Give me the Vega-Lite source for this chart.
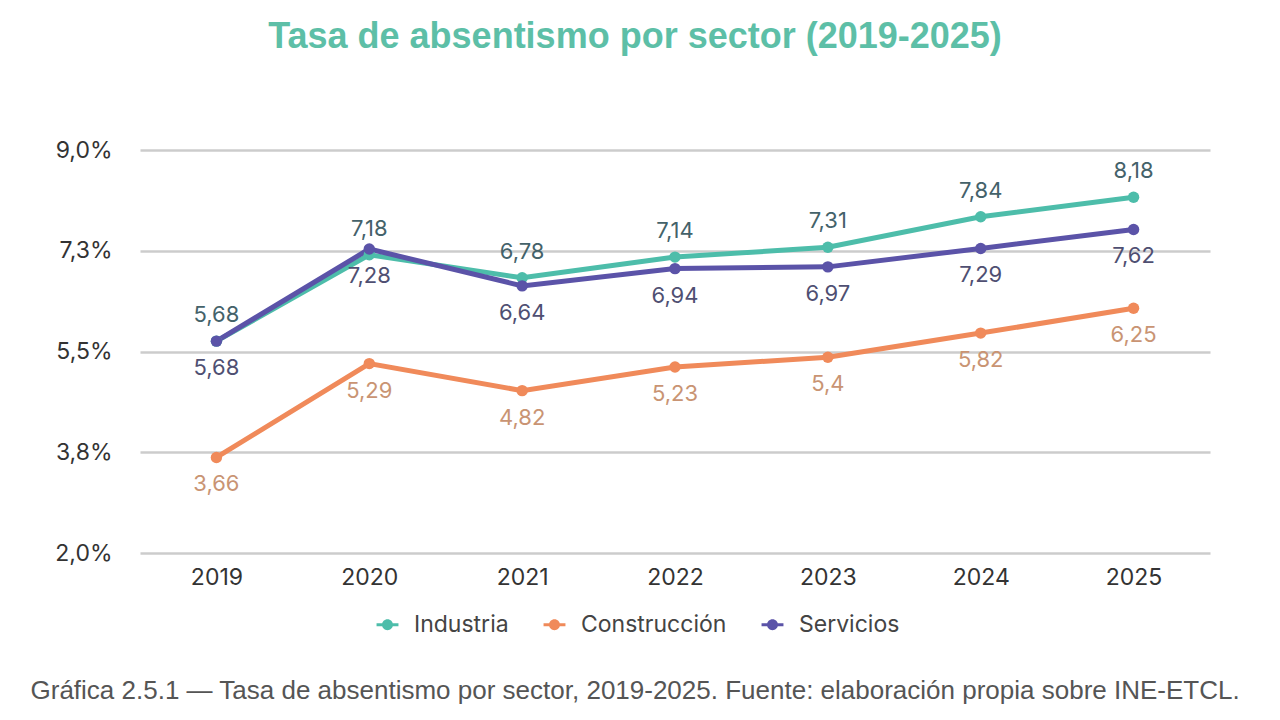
{
  "$schema": "https://vega.github.io/schema/vega-lite/v6.json",
  "width": 1070,
  "height": 403,
  "autosize": {"type": "none"},
  "padding": {"left": 140, "top": 150, "right": 70, "bottom": 167},
  "background": "#ffffff",
  "title": {
    "text": "Tasa de absentismo por sector (2019-2025)",
    "anchor": "middle",
    "dx": -40,
    "offset": 83,
    "font": "Liberation Sans",
    "fontSize": 36,
    "fontWeight": "bold",
    "color": "#5dbfa7"
  },
  "data": {
    "values": [
      {"year": "2019", "sector": "Industria", "value": 5.68},
      {"year": "2020", "sector": "Industria", "value": 7.18},
      {"year": "2021", "sector": "Industria", "value": 6.78},
      {"year": "2022", "sector": "Industria", "value": 7.14},
      {"year": "2023", "sector": "Industria", "value": 7.31},
      {"year": "2024", "sector": "Industria", "value": 7.84},
      {"year": "2025", "sector": "Industria", "value": 8.18},
      {"year": "2019", "sector": "Construcción", "value": 3.66},
      {"year": "2020", "sector": "Construcción", "value": 5.29},
      {"year": "2021", "sector": "Construcción", "value": 4.82},
      {"year": "2022", "sector": "Construcción", "value": 5.23},
      {"year": "2023", "sector": "Construcción", "value": 5.4},
      {"year": "2024", "sector": "Construcción", "value": 5.82},
      {"year": "2025", "sector": "Construcción", "value": 6.25},
      {"year": "2019", "sector": "Servicios", "value": 5.68},
      {"year": "2020", "sector": "Servicios", "value": 7.28},
      {"year": "2021", "sector": "Servicios", "value": 6.64},
      {"year": "2022", "sector": "Servicios", "value": 6.94},
      {"year": "2023", "sector": "Servicios", "value": 6.97},
      {"year": "2024", "sector": "Servicios", "value": 7.29},
      {"year": "2025", "sector": "Servicios", "value": 7.62}
    ]
  },
  "encoding": {
    "x": {
      "field": "year",
      "type": "ordinal",
      "scale": {"type": "point", "padding": 0.5},
      "axis": {
        "title": "Gráfica 2.5.1 — Tasa de absentismo por sector, 2019-2025. Fuente: elaboración propia sobre INE-ETCL.",
        "titleX": -110,
        "titleY": 137,
        "titleAlign": "left",
        "titleAnchor": "start",
        "titleBaseline": "middle",
        "titleFont": "Liberation Sans",
        "titleFontSize": 26,
        "titleFontWeight": "normal",
        "titleColor": "#555555",
        "labelAngle": 0,
        "labelFont": "Inter",
        "labelFontSize": 23,
        "labelColor": "#333333",
        "labelPadding": 13,
        "domain": false,
        "ticks": false,
        "grid": false
      }
    },
    "y": {
      "field": "value",
      "type": "quantitative",
      "scale": {"domain": [2, 9], "nice": false, "zero": false},
      "axis": {
        "title": null,
        "values": [2, 3.75, 5.5, 7.25, 9],
        "labelExpr": "replace(format(datum.value, '.1f'), '.', ',') + '%'",
        "labelFont": "Inter",
        "labelFontSize": 23,
        "labelColor": "#333333",
        "labelPadding": 28,
        "domain": false,
        "ticks": false,
        "grid": true,
        "gridColor": "#cccccc",
        "gridWidth": 2.5
      }
    },
    "color": {
      "field": "sector",
      "type": "nominal",
      "scale": {
        "domain": ["Industria", "Construcción", "Servicios"],
        "range": ["#4dbdaa", "#f08a5a", "#5b53a8"]
      },
      "legend": {
        "title": null,
        "orient": "none",
        "direction": "horizontal",
        "legendX": 236,
        "legendY": 463,
        "symbolType": "M -1 -0.13 L -0.4 -0.13 L -0.4 0.13 L -1 0.13 Z M 0.4 -0.13 L 1 -0.13 L 1 0.13 L 0.4 0.13 Z M 0.5 0 A 0.5 0.5 0 1 1 -0.5 0 A 0.5 0.5 0 1 1 0.5 0 Z",
        "symbolSize": 480,
        "symbolStrokeWidth": 0,
        "labelFont": "Inter",
        "labelFontSize": 23,
        "labelColor": "#444444",
        "labelOffset": 15,
        "columnPadding": 34
      }
    }
  },
  "layer": [
    {"mark": {"type": "line", "strokeWidth": 5, "strokeCap": "round"}},
    {"mark": {"type": "circle", "size": 130, "opacity": 1}},
    {
      "transform": [{"filter": "datum.sector === 'Industria'"}],
      "mark": {"type": "text", "dy": -26, "font": "Inter", "fontSize": 22},
      "encoding": {"text": {"field": "value", "type": "quantitative", "format": ".3~r"}, "color": {"value": "#44626a"}}
    },
    {
      "transform": [{"filter": "datum.sector === 'Servicios'"}],
      "mark": {"type": "text", "dy": 27, "font": "Inter", "fontSize": 22},
      "encoding": {"text": {"field": "value", "type": "quantitative", "format": ".3~r"}, "color": {"value": "#4f4f72"}}
    },
    {
      "transform": [{"filter": "datum.sector === 'Construcción'"}],
      "mark": {"type": "text", "dy": 27, "font": "Inter", "fontSize": 22},
      "encoding": {"text": {"field": "value", "type": "quantitative", "format": ".3~r"}, "color": {"value": "#c99473"}}
    }
  ],
  "config": {
    "view": {"stroke": null},
    "locale": {"number": {"decimal": ",", "thousands": ".", "grouping": [3], "currency": ["", " €"]}}
  }
}
